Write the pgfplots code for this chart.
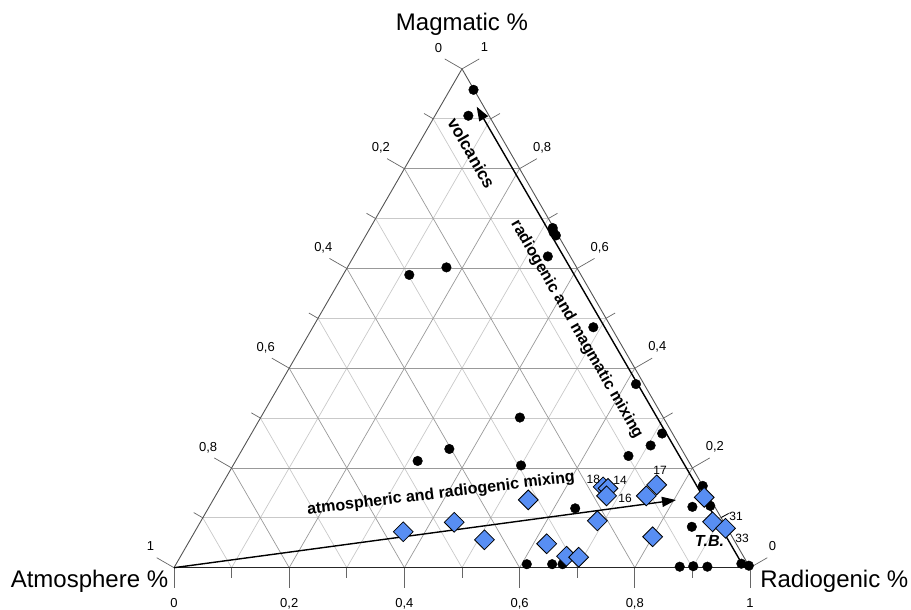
\documentclass[border=0pt]{standalone}
\usepackage{fontspec}
\setmainfont{Liberation Sans}
\usepackage{pgfplots}
\pgfplotsset{compat=1.18}
\usepackage{pgfplotstable}
\usetikzlibrary{arrows.meta}

\definecolor{gmaj}{gray}{0.60}
\definecolor{gmin}{gray}{0.79}
\definecolor{edgec}{gray}{0.33}
\definecolor{tickc}{gray}{0.40}
\definecolor{dblue}{RGB}{88,142,243}

\newcommand\tfont{\fontsize{13}{15}\selectfont}
\newcommand\nfont{\fontsize{12}{14}\selectfont}
\newcommand\bigfont{\fontsize{24}{28}\selectfont}
\newcommand\annfont{\fontsize{16}{19}\selectfont\bfseries}

% ternary data: R = Radiogenic fraction, M = Magmatic fraction
\pgfplotstableread{
R M
0.041 0.958
0.058 0.906
0.317 0.681
0.330 0.666
0.323 0.672
0.337 0.624
0.172 0.602
0.115 0.587
0.487 0.482
0.618 0.368
0.450 0.301
0.713 0.269
0.705 0.245
0.677 0.224
0.359 0.238
0.316 0.214
0.500 0.205
0.637 0.119
0.836 0.164
0.869 0.124
0.839 0.122
0.858 0.082
0.609 0.007
0.653 0.007
0.671 0.007
0.877 0.002
0.900 0.003
0.925 0.002
0.981 0.008
0.996 0.004
}\circles

\pgfplotstableread{
R M
0.362 0.072
0.441 0.091
0.511 0.056
0.547 0.136
0.623 0.048
0.670 0.023
0.692 0.021
0.688 0.094
0.664 0.162
0.674 0.159
0.679 0.144
0.748 0.144
0.755 0.166
0.800 0.062
0.850 0.141
0.889 0.092
0.918 0.079
}\diamonds

\begin{document}
\begin{tikzpicture}
% ---------- grid, edges, ticks (pixel-like frame) ----------
\begin{scope}[shift={(-174pt,567.7pt)},x=1pt,y=-1pt]
\foreach \k in {1,3,5,7,9}{
  \pgfmathsetmacro{\t}{\k/10}
  \draw[gmin,line width=0.7pt] ({174+288*\t},{567.7-498.8*\t}) -- ({750-288*\t},{567.7-498.8*\t});
  \draw[gmin,line width=0.7pt] ({174+576*\t},567.7) -- ({462+288*\t},{68.9+498.8*\t});
  \draw[gmin,line width=0.7pt] ({174+576*\t},567.7) -- ({174+288*\t},{567.7-498.8*\t});
}
\foreach \k in {2,4,6,8}{
  \pgfmathsetmacro{\t}{\k/10}
  \draw[gmaj,line width=0.7pt] ({174+288*\t},{567.7-498.8*\t}) -- ({750-288*\t},{567.7-498.8*\t});
  \draw[gmaj,line width=0.7pt] ({174+576*\t},567.7) -- ({462+288*\t},{68.9+498.8*\t});
  \draw[gmaj,line width=0.7pt] ({174+576*\t},567.7) -- ({174+288*\t},{567.7-498.8*\t});
}
\draw[edgec,line width=0.9pt] (174,567.7) -- (462,68.9) -- (750,567.7);
\draw[black!85,line width=1pt] (174,567.7) -- (750,567.7);
\foreach \k in {0,...,10}{
  \pgfmathsetmacro{\t}{\k/10}
  \pgfmathsetmacro{\tl}{ifthenelse(mod(\k,2)==0,20,10.5)}
  \draw[tickc,line width=0.7pt] ({174+576*\t},567.7) -- ++(0,\tl);
  \draw[tickc,line width=0.7pt] ({174+288*\t},{567.7-498.8*\t}) -- ++({-0.866*\tl},{-0.5*\tl});
  \draw[tickc,line width=0.7pt] ({750-288*\t},{567.7-498.8*\t}) -- ++({0.866*\tl},{-0.5*\tl});
}
% bottom labels (Radiogenic)
\node[font=\tfont,anchor=base] at (174,607.7) {0};
\node[font=\tfont,anchor=base] at (289.2,607.7) {0,2};
\node[font=\tfont,anchor=base] at (404.4,607.7) {0,4};
\node[font=\tfont,anchor=base] at (519.6,607.7) {0,6};
\node[font=\tfont,anchor=base] at (634.8,607.7) {0,8};
\node[font=\tfont,anchor=base] at (750,607.7) {1};
% left labels (Atmosphere)
\node[font=\tfont,anchor=base] at (150.5,550.9) {1};
\node[font=\tfont,anchor=base] at (208.1,451.1) {0,8};
\node[font=\tfont,anchor=base] at (265.7,351.4) {0,6};
\node[font=\tfont,anchor=base] at (323.3,251.6) {0,4};
\node[font=\tfont,anchor=base] at (380.9,151.9) {0,2};
\node[font=\tfont,anchor=base] at (438.5,52.1) {0};
% right labels (Magmatic)
\node[font=\tfont,anchor=base] at (772.5,550.4) {0};
\node[font=\tfont,anchor=base] at (714.9,450.6) {0,2};
\node[font=\tfont,anchor=base] at (657.3,350.9) {0,4};
\node[font=\tfont,anchor=base] at (599.7,251.1) {0,6};
\node[font=\tfont,anchor=base] at (542.1,151.4) {0,8};
\node[font=\tfont,anchor=base] at (484.5,51.6) {1};
\end{scope}

% ---------- data ----------
\begin{axis}[at={(0pt,0pt)},anchor=south west,
  x=576pt,y=576pt,xmin=0,xmax=1,ymin=0,ymax=0.866025,
  hide axis,clip=false]
\addplot[only marks,mark=*,mark size=4.8pt,mark options={fill=black,draw=black}]
  table[x expr=\thisrow{R}+0.5*\thisrow{M},y expr=0.866025*\thisrow{M}] {\circles};
\addplot[only marks,mark=square*,mark size=7pt,
  mark options={rotate=45,fill=dblue,draw=black,line width=0.8pt}]
  table[x expr=\thisrow{R}+0.5*\thisrow{M},y expr=0.866025*\thisrow{M}] {\diamonds};
\draw[black,line width=1.4pt,-{Triangle[length=14pt,width=10pt]}]
  (axis cs:0,0) -- (axis cs:0.8715,0.1175);
\draw[black,line width=1.4pt,-{Triangle[length=14pt,width=10pt]}]
  (axis cs:0.9856,0.0076) -- (axis cs:0.5255,0.8003);
\end{axis}

% ---------- annotations ----------
\begin{scope}[shift={(-174pt,567.7pt)},x=1pt,y=-1pt]
\node[font=\bigfont,anchor=base] at (462,31) {Magmatic \%};
\node[font=\bigfont,anchor=base] at (89.5,588) {Atmosphere \%};
\node[font=\bigfont,anchor=base] at (834.3,588) {Radiogenic \%};
\node[font=\fontsize{17}{20}\selectfont\bfseries,rotate=-60] at (471.5,153) {volcanics};
\node[font=\annfont,rotate=-60] at (576.7,329.5) {radiogenic and magmatic mixing};
\node[font=\annfont,rotate=7] at (441,494) {atmospheric and radiogenic mixing};
\node[font=\fontsize{16}{19}\selectfont\bfseries\itshape] at (709.5,540.5) {T.B.};
\node[font=\nfont,anchor=base] at (593.3,483.6) {18};
\node[font=\nfont,anchor=base] at (620,484.3) {14};
\node[font=\nfont,anchor=base] at (625,502.6) {16};
\node[font=\nfont,anchor=base] at (660,474.3) {17};
\node[font=\nfont,anchor=base] at (736,520.3) {31};
\node[font=\nfont,anchor=base] at (742,542.6) {33};
\draw[black,line width=0.6pt] (721,517.5) -- (728.5,513.5);
\end{scope}

\pgfresetboundingbox
\begin{scope}[shift={(-174pt,567.7pt)},x=1pt,y=-1pt]
\path[use as bounding box] (0,0) rectangle (911,610);
\end{scope}
\end{tikzpicture}
\end{document}
